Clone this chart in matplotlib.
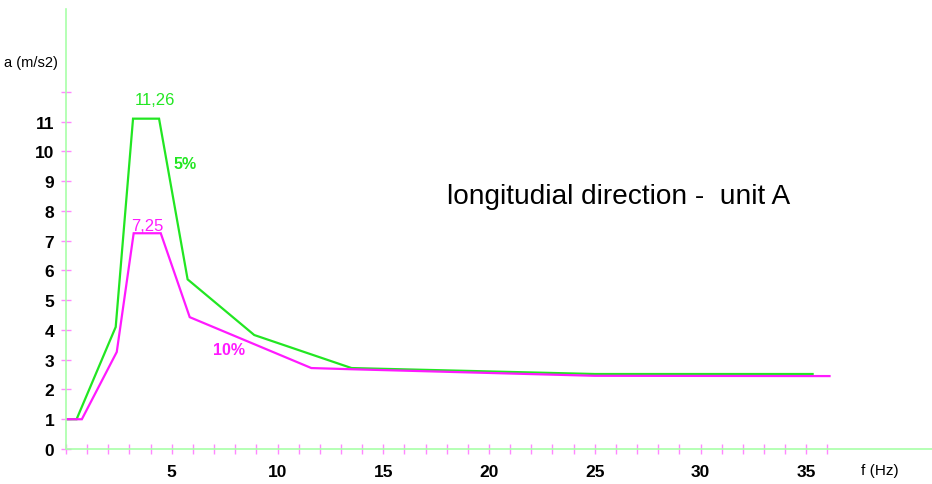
import matplotlib
matplotlib.use("Agg")
import matplotlib.pyplot as plt

# frequency (Hz) and acceleration (m/s2)
f_5 = [0, 0.5, 2.35, 3.17, 4.4, 5.75, 8.9, 13.5, 25, 35.3]
a_5 = [1, 1, 4.1, 11.1, 11.1, 5.7, 3.83, 2.72, 2.52, 2.52]

f_10 = [0, 0.75, 2.4, 3.2, 4.48, 5.85, 11.6, 13.5, 25, 36.1]
a_10 = [1, 1, 3.26, 7.25, 7.25, 4.43, 2.72, 2.68, 2.46, 2.45]

x_ticks = list(range(0, 37))
x_labels = [str(t) if t % 5 == 0 and t > 0 else "" for t in x_ticks]
y_ticks = list(range(0, 13))
y_labels = [str(t) if t <= 11 else "" for t in y_ticks]

narrow = ["Liberation Sans Narrow", "Liberation Sans", "DejaVu Sans"]
green = "#22e622"
magenta = "#ff1aff"
axis_col = "#a8ffa8"
tick_col = "#ff88ff"

fig = plt.figure(figsize=(9.32, 4.85), dpi=100)
ax = fig.add_axes([66 / 932, 35 / 485, 866 / 932, 440 / 485])

ax.plot(f_5, a_5, color=green, lw=1.6, solid_joinstyle="miter")
ax.plot(f_10, a_10, color=magenta, lw=1.6, solid_joinstyle="miter")

ax.set_xlim(0, 866 / 21.15)
ax.set_ylim(0, 440 / 29.76)

for s in ["top", "right"]:
    ax.spines[s].set_visible(False)
for s in ["left", "bottom"]:
    ax.spines[s].set_color(axis_col)
    ax.spines[s].set_linewidth(1.2)

ax.set_xticks(x_ticks)
ax.set_xticklabels(x_labels, fontfamily=narrow, fontsize=12.5, fontweight="bold")
ax.set_yticks(y_ticks)
ax.set_yticklabels(y_labels, fontfamily=narrow, fontsize=12.5, fontweight="bold")
ax.tick_params(direction="inout", length=7, width=1, color=tick_col, pad=5)
ax.tick_params(axis="x", pad=7)

ax.text(-0.4, 13.0, "a (m/s2)", ha="right", va="center", fontsize=10.5,
        fontfamily=narrow, clip_on=False)
ax.text(37.6, -0.7, "f (Hz)", ha="left", va="center", fontsize=11,
        fontfamily=narrow, clip_on=False)

ax.text(4.2, 11.75, "11,26", color=green, ha="center", va="center",
        fontsize=12, fontfamily=narrow)
ax.text(5.65, 9.6, "5%", color=green, ha="center", va="center",
        fontsize=11.5, fontfamily=narrow, fontweight="bold")
ax.text(3.85, 7.5, "7,25", color=magenta, ha="center", va="center",
        fontsize=12, fontfamily=narrow)
ax.text(7.7, 3.35, "10%", color=magenta, ha="center", va="center",
        fontsize=11.5, fontfamily=narrow, fontweight="bold")

ax.text(18.0, 8.5, "longitudial direction -  unit A", ha="left", va="center",
        fontsize=20.2, fontfamily=narrow)

fig.savefig("out.png", dpi=100)
